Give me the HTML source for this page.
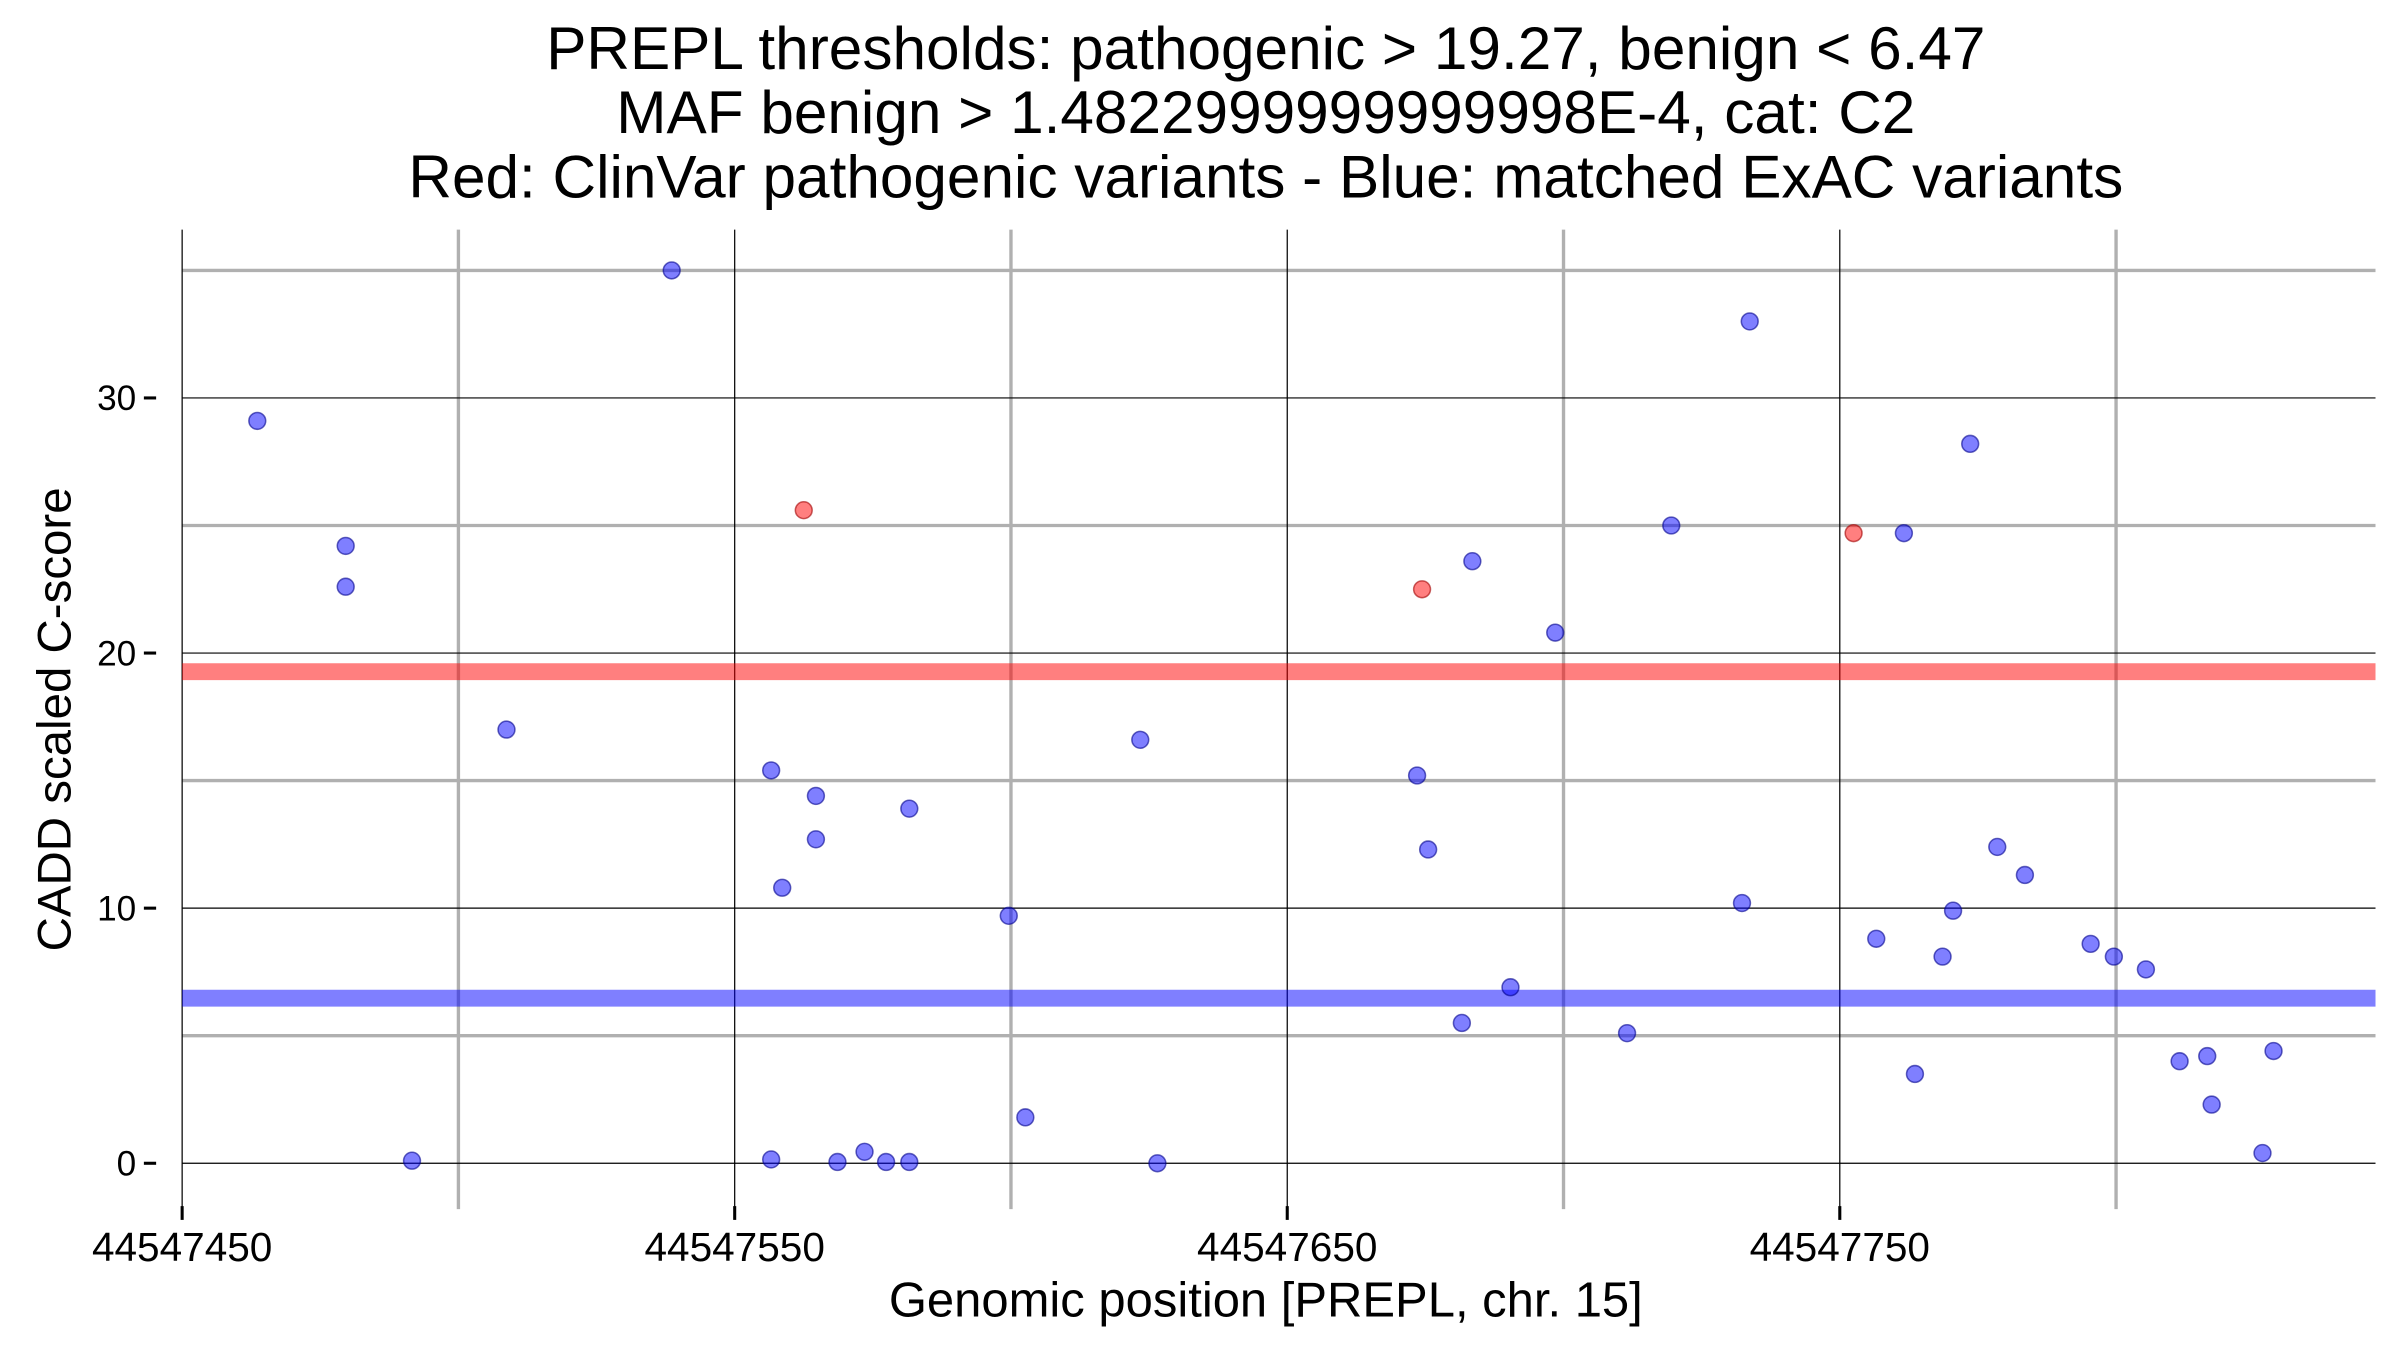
<!DOCTYPE html>
<html><head><meta charset="utf-8"><style>
html,body{margin:0;padding:0;background:#fff;}
svg{display:block;font-family:"Liberation Sans",sans-serif;}
</style></head><body>
<svg id="chart" width="2400" height="1350" viewBox="0 0 1568 882" xmlns="http://www.w3.org/2000/svg">
<g font-size="39.4" text-anchor="middle" fill="#000">
<text x="827" y="45">PREPL thresholds: pathogenic &gt; 19.27, benign &lt; 6.47</text>
<text x="827" y="87">MAF benign &gt; 1.4822999999999998E-4, cat: C2</text>
<text x="827" y="129">Red: ClinVar pathogenic variants - Blue: matched ExAC variants</text>
</g>
<g id="grid"></g>
<g id="thresholds"></g>
<g id="points"></g>
<g id="axes"></g>
<text x="827" y="860" font-size="32" text-anchor="middle">Genomic position [PREPL, chr. 15]</text>
<text transform="translate(46,470) rotate(-90)" font-size="31" text-anchor="middle">CADD scaled C-score</text>
</svg>
<script>
const BASE = 44547000;
const xTicks = [450, 550, 650, 750];
const xMinor = [500, 600, 700, 800];
const yTicks = [0, 10, 20, 30];
const yMinor = [5, 15, 25, 35];
const thresholdPath = 19.27;
const thresholdBenign = 6.47;
const bluePos = [463.6,479.6,479.6,491.6,508.7,538.6,556.6,556.6,558.6,564.7,564.7,568.6,573.5,577.4,581.6,581.6,599.6,602.6,623.4,626.5,673.5,675.5,681.6,683.5,690.4,698.5,711.5,719.5,732.3,733.7,756.6,761.6,763.6,768.6,770.5,773.6,778.5,783.5,795.4,799.6,805.4,811.5,816.5,817.3,826.5,828.5];
const blueScore = [29.1,24.2,22.6,0.1,17.0,35.0,15.4,0.15,10.8,14.4,12.7,0.05,0.45,0.05,13.9,0.05,9.7,1.8,16.6,0.0,15.2,12.3,5.5,23.6,6.9,20.8,5.1,25.0,10.2,33.0,8.8,24.7,3.5,8.1,9.9,28.2,12.4,11.3,8.6,8.1,7.6,4.0,4.2,2.3,0.4,4.4];
const redPos = [562.5,674.4,752.5];
const redScore = [25.6,22.5,24.7];

const X0=119, X1=1552, YT=150, YB=790;
const xs = v => 119 + (v - 450) * 3.61;
const ys = v => 760 - v * 16.667;
const NS = "http://www.w3.org/2000/svg";
function mk(parent, tag, attrs){ const e=document.createElementNS(NS,tag); for(const k in attrs) e.setAttribute(k,attrs[k]); parent.appendChild(e); return e; }
const grid=document.getElementById('grid'), th=document.getElementById('thresholds'), pts=document.getElementById('points'), ax=document.getElementById('axes');
yMinor.forEach(v=>{ const l=mk(grid,'line',{x1:X0,x2:X1,y1:ys(v),y2:ys(v),stroke:'#b0b0b0','stroke-width':2.2});

 });
xMinor.forEach(v=>{ const l=mk(grid,'line',{x1:xs(v),x2:xs(v),y1:YT,y2:YB,stroke:'#b0b0b0','stroke-width':2.2});

 });
yTicks.forEach(v=>{ const l=mk(grid,'line',{x1:X0,x2:X1,y1:ys(v),y2:ys(v),stroke:'#000','stroke-width':0.8});

 });
xTicks.forEach(v=>{ const l=mk(grid,'line',{x1:xs(v),x2:xs(v),y1:YT,y2:YB,stroke:'#000','stroke-width':0.8});

 });
const rl=mk(th,'line',{x1:X0,x2:X1,y1:ys(thresholdPath),y2:ys(thresholdPath),stroke:'rgba(255,0,0,0.5)','stroke-width':11});


const bl=mk(th,'line',{x1:X0,x2:X1,y1:ys(thresholdBenign),y2:ys(thresholdBenign),stroke:'rgba(0,0,255,0.5)','stroke-width':11});


bluePos.forEach((p,i)=>{ const c=mk(pts,'circle',{cx:xs(p),cy:ys(blueScore[i]),r:5.5,fill:'rgba(0,0,255,0.5)',stroke:'rgba(0,0,140,0.6)','stroke-width':1});

 });
redPos.forEach((p,i)=>{ const c=mk(pts,'circle',{cx:xs(p),cy:ys(redScore[i]),r:5.5,fill:'rgba(255,0,0,0.5)',stroke:'rgba(160,0,0,0.6)','stroke-width':1});

 });
yTicks.forEach(v=>{ mk(ax,'line',{x1:94,x2:102,y1:ys(v),y2:ys(v),stroke:'#000','stroke-width':2});
const t=mk(ax,'text',{x:89,y:ys(v)+8,'font-size':23,'text-anchor':'end'}); t.textContent=v;

 });
xTicks.forEach(v=>{ mk(ax,'line',{x1:xs(v),x2:xs(v),y1:788,y2:797,stroke:'#000','stroke-width':2});
const t=mk(ax,'text',{x:xs(v),y:824,'font-size':26.5,'text-anchor':'middle'}); t.textContent=String(BASE+v);

 });
</script>
</body></html>
